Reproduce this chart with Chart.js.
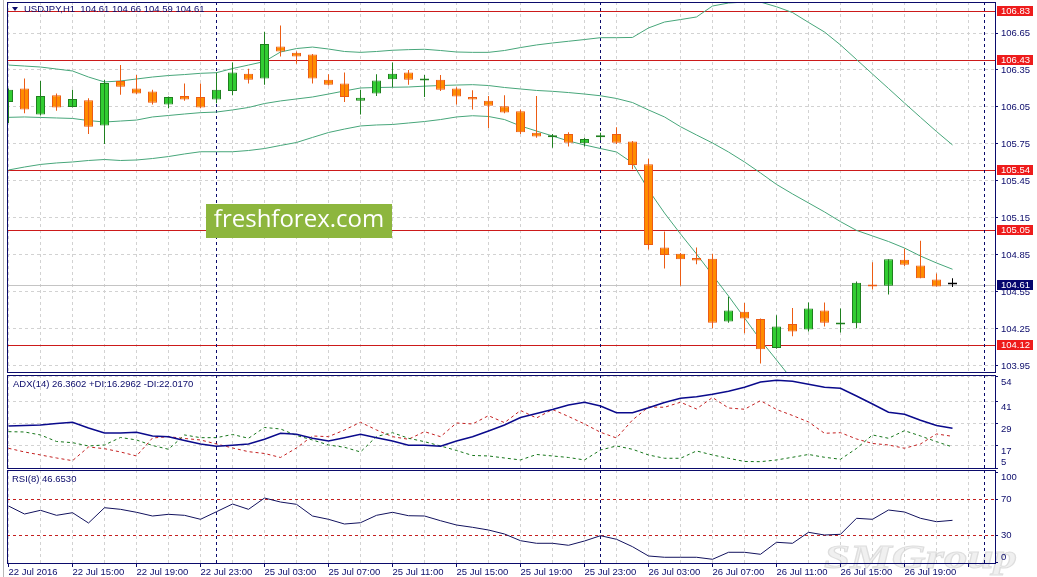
<!DOCTYPE html>
<html>
<head>
<meta charset="utf-8">
<script src="https://cdn.jsdelivr.net/npm/chart.js@4.4.1/dist/chart.umd.min.js"></script>
<style>
  html, body { margin: 0; padding: 0; background: #fff; }
  #wrap { position: relative; width: 1037px; height: 577px; overflow: hidden; }
  #wrap canvas { position: absolute; left: 0; }
  #edge { position: absolute; left: 3px; top: 0; width: 1px; height: 577px; background: #b8b8b8; }
</style>
</head>
<body>
<div id="wrap">
  <div id="edge"></div>
  <canvas id="mainChart" width="1037" height="374" style="top:0"></canvas>
  <canvas id="adxChart" width="1037" height="97" style="top:373px"></canvas>
  <canvas id="rsiChart" width="1037" height="109" style="top:468px"></canvas>
</div>
<script>
// USDJPY H1, 22 Jul 11:00 .. 26 Jul 22:00 (60 bars)
const xTickLabels = ['22 Jul 2016', '22 Jul 15:00', '22 Jul 19:00', '22 Jul 23:00', '25 Jul 03:00',
  '25 Jul 07:00', '25 Jul 11:00', '25 Jul 15:00', '25 Jul 19:00', '25 Jul 23:00', '26 Jul 03:00',
  '26 Jul 07:00', '26 Jul 11:00', '26 Jul 15:00', '26 Jul 19:00'];

const opens = [106.09, 106.20, 105.99, 106.145, 106.05, 106.105, 105.90, 106.26, 106.20, 106.175,
  106.07, 106.14, 106.13, 106.11, 106.18, 106.32, 106.28, 106.54, 106.49, 106.475,
  106.27, 106.24, 106.10, 106.16, 106.275, 106.33, 106.265, 106.27, 106.20, 106.13,
  106.10, 106.055, 106.015, 105.84, 105.805, 105.83, 105.755, 105.805, 105.83, 105.77,
  105.585, 104.91, 104.86, 104.825, 104.82, 104.31, 104.39, 104.33, 104.095, 104.29,
  104.245, 104.40, 104.285, 104.295, 104.61, 104.60, 104.81, 104.765, 104.65, 104.61];
const highs = [106.20, 106.28, 106.26, 106.16, 106.19, 106.12, 106.27, 106.39, 106.31, 106.19,
  106.135, 106.24, 106.24, 106.33, 106.41, 106.36, 106.66, 106.71, 106.50, 106.48,
  106.315, 106.33, 106.19, 106.315, 106.41, 106.35, 106.31, 106.31, 106.21, 106.185,
  106.14, 106.145, 106.03, 106.14, 105.83, 105.845, 105.80, 105.84, 105.885, 105.775,
  105.63, 105.04, 104.865, 104.91, 104.86, 104.51, 104.46, 104.335, 104.36, 104.42,
  104.465, 104.465, 104.415, 104.635, 104.79, 104.815, 104.90, 104.965, 104.70, 104.66];
const lows = [105.92, 106.00, 105.98, 106.02, 106.045, 105.83, 105.75, 106.15, 106.155, 106.07,
  106.04, 106.10, 106.04, 106.08, 106.145, 106.24, 106.23, 106.46, 106.40, 106.24,
  106.225, 106.09, 105.99, 106.14, 106.21, 106.23, 106.13, 106.18, 106.07, 106.03,
  105.88, 106.00, 105.83, 105.80, 105.72, 105.73, 105.73, 105.78, 105.75, 105.545,
  104.895, 104.74, 104.60, 104.775, 104.255, 104.30, 104.215, 103.97, 104.09, 104.19,
  104.23, 104.27, 104.22, 104.255, 104.57, 104.53, 104.76, 104.66, 104.595, 104.59];
const closes = [106.19, 106.03, 106.14, 106.045, 106.115, 105.89, 106.245, 106.215, 106.16, 106.085,
  106.13, 106.11, 106.045, 106.19, 106.33, 106.27, 106.56, 106.50, 106.46, 106.28,
  106.23, 106.13, 106.125, 106.265, 106.32, 106.27, 106.27, 106.19, 106.135, 106.11,
  106.06, 106.005, 105.845, 105.81, 105.81, 105.76, 105.79, 105.81, 105.76, 105.58,
  104.93, 104.85, 104.815, 104.805, 104.30, 104.40, 104.335, 104.085, 104.27, 104.23,
  104.415, 104.30, 104.30, 104.625, 104.595, 104.815, 104.77, 104.66, 104.595, 104.61];

// Bollinger bands
const bbUpper = [106.390, 106.382, 106.374, 106.358, 106.342, 106.293, 106.253, 106.261, 106.277, 106.293,
  106.305, 106.313, 106.323, 106.328, 106.362, 106.390, 106.419, 106.496, 106.524, 106.536,
  106.520, 106.500, 106.493, 106.500, 106.510, 106.515, 106.518, 106.508, 106.496, 106.493,
  106.493, 106.508, 106.532, 106.553, 106.569, 106.583, 106.597, 106.612, 106.612, 106.614,
  106.691, 106.739, 106.759, 106.780, 106.869, 106.893, 106.901, 106.901, 106.863, 106.816,
  106.736, 106.658, 106.553, 106.435, 106.317, 106.200, 106.082, 105.966, 105.851, 105.742];
const bbMiddle = [105.966, 105.969, 105.965, 105.961, 105.957, 105.940, 105.928, 105.936, 105.944, 105.969,
  105.981, 105.993, 106.004, 106.009, 106.026, 106.046, 106.078, 106.099, 106.115, 106.131,
  106.155, 106.180, 106.204, 106.208, 106.210, 106.212, 106.219, 106.224, 106.228, 106.231,
  106.224, 106.208, 106.196, 106.184, 106.177, 106.167, 106.155, 106.141, 106.119, 106.086,
  106.026, 105.969, 105.890, 105.823, 105.758, 105.685, 105.604, 105.515, 105.422, 105.345,
  105.272, 105.199, 105.120, 105.049, 105.004, 104.959, 104.906, 104.841, 104.785, 104.734];
const bbLower = [105.539, 105.563, 105.584, 105.596, 105.604, 105.616, 105.624, 105.616, 105.620, 105.632,
  105.648, 105.669, 105.687, 105.687, 105.687, 105.697, 105.713, 105.738, 105.762, 105.803,
  105.843, 105.871, 105.896, 105.904, 105.908, 105.920, 105.932, 105.948, 105.969, 105.979,
  105.973, 105.948, 105.896, 105.855, 105.815, 105.774, 105.742, 105.713, 105.685, 105.596,
  105.377, 105.190, 105.020, 104.858, 104.687, 104.517, 104.339, 104.160, 103.998, 103.836,
  103.714, 103.617, 103.536, 103.487, 103.446, 103.414, 103.382, 103.349, 103.325, 103.300];

// ADX(14)
const adxMain = [27.60, 27.87, 28.13, 28.94, 29.59, 26.52, 23.83, 23.83, 24.21, 22.22,
  21.84, 19.80, 17.92, 16.68, 17.22, 17.92, 20.45, 23.67, 23.13, 20.98,
  19.53, 21.31, 23.13, 21.31, 19.53, 17.22, 17.22, 16.68, 19.53, 21.84,
  24.91, 28.13, 32.17, 34.32, 36.47, 38.89, 40.34, 38.35, 34.75, 34.75,
  37.38, 40.23, 42.49, 43.35, 44.64, 46.31, 48.40, 51.25, 52.17, 51.63,
  50.07, 48.40, 47.87, 43.73, 39.42, 34.96, 33.89, 30.66, 27.87, 26.36];
const plusDI = [24.53, 24.37, 22.76, 19.26, 18.62, 16.84, 17.38, 21.41, 20.07, 17.11,
  15.07, 22.76, 21.31, 21.31, 23.03, 20.98, 26.79, 25.98, 22.49, 20.07,
  17.38, 16.14, 13.62, 21.95, 23.99, 20.98, 19.16, 16.84, 14.42, 11.74,
  11.47, 10.39, 9.32, 12.27, 11.47, 10.66, 9.32, 14.69, 16.84, 15.07,
  12.01, 10.23, 10.23, 14.16, 12.01, 10.23, 8.51, 8.40, 9.32, 10.77,
  12.27, 10.77, 9.69, 15.50, 22.76, 20.98, 25.07, 22.22, 19.16, 16.30];
const minusDI = [15.61, 13.62, 12.01, 10.39, 8.94, 16.31, 15.39, 13.62, 11.47, 21.14,
  21.84, 20.88, 20.07, 17.92, 15.77, 13.78, 12.81, 10.66, 15.77, 22.22,
  21.84, 25.45, 29.59, 25.45, 21.84, 20.45, 24.53, 21.84, 29.21, 28.67,
  33.13, 29.37, 35.93, 31.90, 36.47, 32.70, 28.67, 24.21, 21.14, 30.82,
  37.81, 37.65, 40.34, 36.74, 42.92, 37.27, 36.58, 41.20, 36.47, 33.24,
  29.75, 23.67, 23.99, 20.61, 18.19, 17.38, 15.61, 17.92, 23.30, 22.02];

// RSI(8)
const rsi = [62.56, 53.67, 57.78, 52.22, 55.11, 43.67, 60.67, 58.89, 55.56, 51.44,
  53.33, 52.22, 47.78, 56.22, 64.78, 58.89, 71.44, 67.00, 64.44, 51.44,
  47.78, 42.56, 44.00, 52.22, 55.56, 51.78, 51.44, 46.22, 41.44, 38.89,
  35.89, 31.44, 24.00, 21.11, 21.11, 18.89, 23.67, 29.56, 25.56, 17.33,
  7.00, 5.56, 5.56, 5.56, 3.33, 11.11, 11.11, 8.89, 22.22, 21.11,
  33.33, 30.33, 31.11, 48.89, 47.78, 58.11, 55.89, 48.89, 45.11, 46.65];

const priceTicks = [106.65, 106.35, 106.05, 105.75, 105.45, 105.15, 104.85, 104.55, 104.25, 103.95];
const priceLevels = [106.83, 106.43, 105.54, 105.05, 104.12];
const adxTicks = [54, 41, 29, 17, 5];
const rsiTicks = [100, 70, 30, 0];
const rsiLevels = [70, 30];
const separators = [13, 37, 61]; // day breaks + chart shift marker (bar index)

const NAVY = '#0b0b6b';
const GRID = '#d2d2d2';
const FONT = { family: '"Liberation Sans", Arial, sans-serif', size: 9.5 };
const FONT_STR = '9.5px "Liberation Sans", Arial, sans-serif';
const BULL_FILL = '#32cd32', BULL_LINE = '#1f801f';
const BEAR_FILL = '#ff8c00', BEAR_LINE = '#ec5c14';
const BAND = '#47a67a';

const last = closes.length - 1;
const idx = closes.map((_, i) => i);
const pts = arr => arr.map((v, i) => ({ x: i, y: v }));

function candleColor(i, fill) {
  if (opens[i] === closes[i]) return '#000';
  const up = closes[i] > opens[i];
  if (fill) return up ? BULL_FILL : BEAR_FILL;
  return up ? BULL_LINE : BEAR_LINE;
}

// one shared x range so all three panels line up
function xAxis(withLabels) {
  return {
    type: 'linear',
    offset: false,
    min: -0.09375,
    max: 61.65625,
    afterBuildTicks: s => {
      s.ticks = [];
      for (let v = 0; v <= 60; v += 2) s.ticks.push({ value: v });
    },
    afterFit: s => { s.height = withLabels ? 14 : 0; },
    border: { display: false, dash: [3, 3] },
    grid: {
      offset: false,
      color: GRID,
      drawTicks: withLabels,
      tickLength: 4,
      tickBorderDash: [],
      tickColor: c => (c.tick && c.tick.value % 4 === 0) ? NAVY : 'rgba(0,0,0,0)'
    },
    ticks: {
      display: withLabels,
      autoSkip: false,
      maxRotation: 0,
      align: 'start',
      padding: 0,
      color: NAVY,
      font: FONT,
      callback: v => (v % 4 === 0 ? (xTickLabels[v / 4] || '') : '')
    }
  };
}

function yAxis(min, max, ticks, gridOnArea) {
  return {
    position: 'right',
    min: min,
    max: max,
    afterBuildTicks: s => { s.ticks = ticks.map(v => ({ value: v })); },
    afterFit: s => { s.width = 42; },
    border: { display: false, dash: [3, 3] },
    grid: { color: GRID, drawOnChartArea: gridOnArea, drawTicks: true, tickLength: 3, tickColor: NAVY, tickBorderDash: [] },
    ticks: { display: false }
  };
}

const panelPlugin = {
  id: 'panel',
  beforeDraw(chart, args, o) {
    if (o.under) o.under(chart);
  },
  beforeDatasetsDraw(chart, args, o) {
    const { ctx, chartArea: a, scales: { x, y } } = chart;
    ctx.save();
    ctx.beginPath();
    ctx.rect(a.left, a.top, a.right - a.left, a.bottom - a.top);
    ctx.clip();
    ctx.lineWidth = 1;
    (o.levels || []).forEach(l => {
      const py = Math.round(y.getPixelForValue(l.value)) + 0.5;
      ctx.strokeStyle = l.color;
      ctx.setLineDash(l.dash || []);
      ctx.beginPath();
      ctx.moveTo(a.left, py);
      ctx.lineTo(a.right, py);
      ctx.stroke();
    });
    ctx.strokeStyle = NAVY;
    ctx.setLineDash([3, 3]);
    separators.forEach(v => {
      const px = Math.floor(x.getPixelForValue(v)) + 0.5;
      ctx.beginPath();
      ctx.moveTo(px, a.top);
      ctx.lineTo(px, a.bottom);
      ctx.stroke();
    });
    ctx.restore();
  },
  afterDatasetsDraw(chart, args, o) {
    if (o.over) o.over(chart);
  },
  afterDraw(chart, args, o) {
    const { ctx, chartArea: a, scales: { y } } = chart;
    ctx.save();
    ctx.strokeStyle = NAVY;
    ctx.lineWidth = 1;
    ctx.setLineDash([]);
    ctx.strokeRect(a.left + 0.5, a.top + 0.5, a.right - a.left, a.bottom - a.top);

    ctx.font = FONT_STR;
    ctx.textAlign = 'left';
    ctx.textBaseline = 'middle';
    ctx.fillStyle = NAVY;
    (o.labels || []).forEach(v => {
      let py = y.getPixelForValue(v) + (o.labelShift || 0);
      py = Math.min(Math.max(py, a.top + 7), a.bottom - 6);
      ctx.fillText(o.fmt ? o.fmt(v) : String(v), a.right + 6, py);
    });
    (o.boxes || []).forEach(b => {
      const py = Math.round(y.getPixelForValue(b.value));
      ctx.fillStyle = b.bg;
      ctx.fillRect(a.right + 2, py - 5, 36, 10);
      ctx.fillStyle = '#fff';
      ctx.fillText(b.value.toFixed(2), a.right + 6, py + 0.5);
    });
    if (o.title) {
      ctx.fillStyle = NAVY;
      ctx.fillText(o.title, a.left + o.titleX, a.top + o.titleY);
    }
    if (o.top) o.top(chart);
    ctx.restore();
  }
};
Chart.register(panelPlugin);

const common = {
  responsive: false,
  animation: false,
  events: [],
  plugins: { legend: { display: false }, tooltip: { enabled: false } }
};

// ---- price panel ----
const P_MAX = 106.65 + 31 / 123.3;
const P_MIN = 106.65 - 339 / 123.3;

new Chart(document.getElementById('mainChart'), {
  type: 'bar',
  data: {
    datasets: [
      {
        data: idx.map(i => ({ x: i, y: [lows[i], highs[i]] })),
        backgroundColor: idx.map(i => candleColor(i, false)),
        borderWidth: 0,
        barThickness: 1,
        inflateAmount: 0,
        grouped: false
      },
      {
        data: idx.map(i => ({ x: i, y: [opens[i], closes[i]] })),
        backgroundColor: idx.map(i => candleColor(i, true)),
        borderColor: idx.map(i => candleColor(i, false)),
        borderWidth: 1,
        borderSkipped: false,
        barThickness: 9,
        minBarLength: 2,
        inflateAmount: 0,
        grouped: false
      },
      { type: 'line', data: pts(bbUpper), borderColor: BAND, borderWidth: 1, pointRadius: 0, tension: 0 },
      { type: 'line', data: pts(bbMiddle), borderColor: BAND, borderWidth: 1, pointRadius: 0, tension: 0 },
      { type: 'line', data: pts(bbLower), borderColor: BAND, borderWidth: 1, pointRadius: 0, tension: 0 }
    ]
  },
  options: {
    ...common,
    layout: { padding: { left: 7, right: 0, top: 2, bottom: 2 } },
    scales: { x: xAxis(false), y: yAxis(P_MIN, P_MAX, priceTicks, true) },
    plugins: {
      ...common.plugins,
      panel: {
        levels: priceLevels.map(v => ({ value: v, color: '#cc1a1a' }))
          .concat([{ value: closes[last], color: '#c4c4c4' }]),
        labels: priceTicks,
        fmt: v => v.toFixed(2),
        boxes: priceLevels.map(v => ({ value: v, bg: '#ee1b1b' }))
          .concat([{ value: closes[last], bg: '#05056e' }]),
        title: 'USDJPY,H1  ' + [opens[last], highs[last], lows[last], closes[last]].map(v => v.toFixed(2)).join(' '),
        titleX: 17,
        titleY: 7,
        over(chart) {
          const ctx = chart.ctx;
          ctx.save();
          ctx.fillStyle = '#8db63e';
          ctx.fillRect(206, 204, 186, 34);
          ctx.fillStyle = '#fff';
          ctx.font = '24px "Open Sans", "Noto Sans", sans-serif';
          ctx.textAlign = 'center';
          ctx.textBaseline = 'middle';
          ctx.fillText('freshforex.com', 299, 220);
          ctx.restore();
        },
        top(chart) {
          const ctx = chart.ctx;
          ctx.fillStyle = NAVY;
          ctx.beginPath();
          ctx.moveTo(12, 7);
          ctx.lineTo(18, 7);
          ctx.lineTo(15, 11);
          ctx.closePath();
          ctx.fill();
        }
      }
    }
  }
});

// ---- ADX panel ----
new Chart(document.getElementById('adxChart'), {
  type: 'line',
  data: {
    datasets: [
      { data: pts(adxMain), borderColor: '#0a0a8c', borderWidth: 1.5, pointRadius: 0, tension: 0 },
      { data: pts(plusDI), borderColor: '#16761a', borderWidth: 1, borderDash: [3, 3], pointRadius: 0, tension: 0 },
      { data: pts(minusDI), borderColor: '#c42020', borderWidth: 1, borderDash: [3, 3], pointRadius: 0, tension: 0 }
    ]
  },
  options: {
    ...common,
    layout: { padding: { left: 7, right: 0, top: 2, bottom: 2 } },
    scales: { x: xAxis(false), y: yAxis(5, 55, adxTicks, true) },
    plugins: {
      ...common.plugins,
      panel: {
        labels: adxTicks,
        labelShift: 6,
        title: 'ADX(14) 26.3602 +DI:16.2962 -DI:22.0170',
        titleX: 6,
        titleY: 9.5
      }
    }
  }
});

// ---- RSI panel ----
new Chart(document.getElementById('rsiChart'), {
  type: 'line',
  data: {
    datasets: [
      { data: pts(rsi), borderColor: '#12125e', borderWidth: 1, pointRadius: 0, tension: 0 }
    ]
  },
  options: {
    ...common,
    layout: { padding: { left: 7, right: 0, top: 2, bottom: 0 } },
    scales: { x: xAxis(true), y: yAxis(-0.8, 102.6, rsiTicks, false) },
    plugins: {
      ...common.plugins,
      panel: {
        levels: rsiLevels.map(v => ({ value: v, color: '#c42020', dash: [3, 3] })),
        labels: rsiTicks,
        title: 'RSI(8) 46.6530',
        titleX: 5,
        titleY: 9.5,
        under(chart) {
          const ctx = chart.ctx;
          ctx.save();
          ctx.font = 'italic bold 34px "Liberation Serif", serif';
          const w = ctx.measureText('SMGroup').width;
          ctx.translate(824, 100);
          ctx.scale(193 / w, 1);
          ctx.fillStyle = '#f0f0f0';
          ctx.strokeStyle = '#dedede';
          ctx.lineWidth = 1;
          ctx.fillText('SMGroup', 0, 0);
          ctx.strokeText('SMGroup', 0, 0);
          ctx.restore();
        }
      }
    }
  }
});
</script>
</body>
</html>
